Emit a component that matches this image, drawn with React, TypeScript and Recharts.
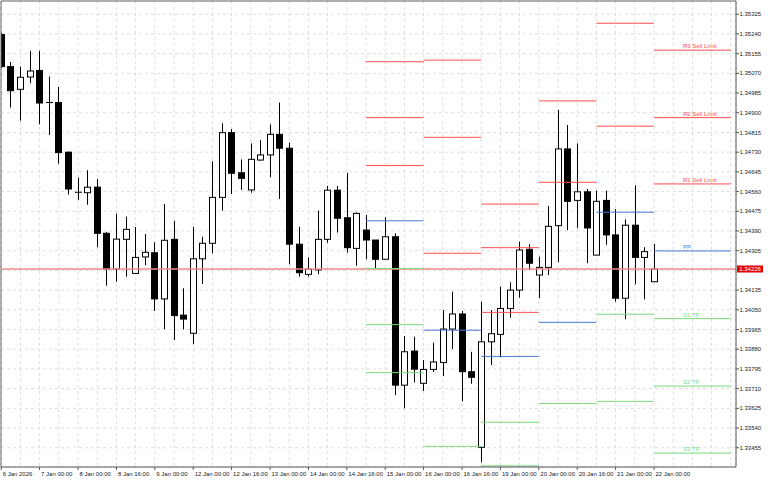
import React from 'react';
import { ComposedChart, Bar, XAxis, YAxis, CartesianGrid, ReferenceLine } from 'recharts';

// GBP H4 candles, 6 Jan 2026 .. 22 Jan 2026 (one per bar index)
const opens = [
  1.35237, 1.35099, 1.35001, 1.35054, 1.35082, 1.34944, 1.34944, 1.34730, 1.34557, 1.34555,
  1.34579, 1.34380, 1.34226, 1.34354, 1.34207, 1.34278, 1.34296, 1.34097, 1.34354, 1.34027,
  1.33949, 1.34270, 1.34337, 1.34535, 1.34814, 1.34641, 1.34567, 1.34696, 1.34718, 1.34807,
  1.34747, 1.34333, 1.34203, 1.34222, 1.34354, 1.34566, 1.34447, 1.34315, 1.34394, 1.34351,
  1.34268, 1.34365, 1.33725, 1.33872, 1.33733, 1.33793, 1.33823, 1.33967, 1.34032, 1.33783,
  1.33457, 1.33912, 1.33944, 1.34056, 1.34135, 1.34311, 1.34200, 1.34233, 1.34413, 1.34744,
  1.34522, 1.34559, 1.34286, 1.34522, 1.34373, 1.34100, 1.34415, 1.34276, 1.34171,
];
const highs = [
  1.35244, 1.35119, 1.35099, 1.35167, 1.35167, 1.35056, 1.35011, 1.34732, 1.34620, 1.34652,
  1.34614, 1.34386, 1.34465, 1.34452, 1.34407, 1.34377, 1.34341, 1.34506, 1.34434, 1.34143,
  1.34408, 1.34365, 1.34691, 1.34855, 1.34830, 1.34699, 1.34768, 1.34783, 1.34850, 1.34944,
  1.34771, 1.34408, 1.34276, 1.34478, 1.34584, 1.34584, 1.34641, 1.34470, 1.34459, 1.34351,
  1.34449, 1.34380, 1.33937, 1.33934, 1.33833, 1.33908, 1.34049, 1.34128, 1.34045, 1.33869,
  1.34085, 1.34049, 1.34150, 1.34169, 1.34344, 1.34333, 1.34279, 1.34498, 1.34912, 1.34847,
  1.34768, 1.34571, 1.34564, 1.34564, 1.34484, 1.34440, 1.34588, 1.34320, 1.34334,
];
const lows = [
  1.35093, 1.34922, 1.34866, 1.35027, 1.34850, 1.34804, 1.34680, 1.34547, 1.34524, 1.34503,
  1.34320, 1.34154, 1.34171, 1.34193, 1.34205, 1.34242, 1.34045, 1.33966, 1.33920, 1.33966,
  1.33902, 1.34161, 1.34294, 1.34478, 1.34550, 1.34567, 1.34555, 1.34693, 1.34622, 1.34528,
  1.34246, 1.34193, 1.34193, 1.34204, 1.34339, 1.34383, 1.34296, 1.34240, 1.34268, 1.34229,
  1.34268, 1.33682, 1.33625, 1.33737, 1.33700, 1.33782, 1.33764, 1.33881, 1.33655, 1.33731,
  1.33392, 1.33812, 1.33845, 1.34016, 1.34102, 1.34222, 1.34100, 1.34200, 1.34255, 1.34394,
  1.34402, 1.34251, 1.34286, 1.34330, 1.34085, 1.34009, 1.34160, 1.34095, 1.34171,
];
const closes = [
  1.35099, 1.34995, 1.35053, 1.35080, 1.34942, 1.34942, 1.34728, 1.34571, 1.34556, 1.34579,
  1.34380, 1.34226, 1.34355, 1.34397, 1.34276, 1.34298, 1.34097, 1.34350, 1.34025, 1.34010,
  1.34270, 1.34337, 1.34535, 1.34814, 1.34639, 1.34617, 1.34699, 1.34718, 1.34807, 1.34747,
  1.34333, 1.34210, 1.34225, 1.34354, 1.34566, 1.34445, 1.34318, 1.34466, 1.34351, 1.34268,
  1.34365, 1.33725, 1.33869, 1.33794, 1.33793, 1.33825, 1.33967, 1.34032, 1.33783, 1.33759,
  1.33912, 1.33947, 1.34056, 1.34135, 1.34308, 1.34251, 1.34233, 1.34410, 1.34744, 1.34518,
  1.34559, 1.34403, 1.34518, 1.34373, 1.34100, 1.34415, 1.34276, 1.34301, 1.34226,
];

const BID = 1.34226;

// time axis: label every 4 bars, grid every 2 bars
const tickIdx = [0, 4, 8, 12, 16, 20, 24, 28, 32, 36, 40, 44, 48, 52, 56, 60, 64, 68];
const tickLabels = [
  '6 Jan 2026', '7 Jan 00:00', '8 Jan 00:00', '8 Jan 16:00', '9 Jan 00:00', '12 Jan 00:00',
  '12 Jan 16:00', '13 Jan 00:00', '14 Jan 00:00', '14 Jan 16:00', '15 Jan 00:00', '16 Jan 00:00',
  '16 Jan 16:00', '19 Jan 00:00', '20 Jan 00:00', '20 Jan 16:00', '21 Jan 00:00', '22 Jan 00:00',
];
const gridIdx = Array.from({ length: 39 }, (_, i) => i * 2);

const yTicks = [
  1.35325, 1.3524, 1.35155, 1.3507, 1.34985, 1.349, 1.34815, 1.3473, 1.34645, 1.3456, 1.34475,
  1.3439, 1.34305, 1.3422, 1.34135, 1.3405, 1.33965, 1.3388, 1.33795, 1.3371, 1.33625, 1.3354,
  1.33455,
];

// daily pivot levels (15 Jan .. 22 Jan), null = off screen
const dayStart = [38, 44, 50, 56, 62, 68];
const dayEnd = [44, 50, 56, 62, 68, 76];
const r3 = [1.3512, 1.35127, 1.34506, null, null, 1.3517];
const r2 = [1.34879, 1.34794, 1.34318, 1.34951, 1.35286, 1.34879];
const r1 = [1.34672, 1.34294, 1.34039, 1.346, 1.34842, 1.34593];
const pp = [1.34434, 1.33962, 1.33849, 1.33996, 1.34471, 1.34304];
const s1 = [1.34228, 1.33461, 1.33565, 1.33646, 1.34031, 1.34012];
const s2 = [1.33986, null, 1.33377, null, 1.33655, 1.33721];
const s3 = [1.33779, null, null, null, null, 1.33432];

const RED = '#ff4d4d';
const BLUE = '#4a78d8';
const GREEN = '#7ada7a';

const levels = [
  { values: r3, color: RED, text: 'R3 Sell Limit' },
  { values: r2, color: RED, text: 'R2 Sell Limit' },
  { values: r1, color: RED, text: 'R1 Sell Limit' },
  { values: pp, color: BLUE, text: 'PP' },
  { values: s1, color: GREEN, text: 'S1 TP' },
  { values: s2, color: GREEN, text: 'S2 TP' },
  { values: s3, color: GREEN, text: 'S3 TP' },
];

const X_DOMAIN: [number, number] = [-0.02, 76.54];
const Y_DOMAIN: [number, number] = [1.33372, 1.35382];
const FONT = '"Liberation Sans", Arial, sans-serif';

const data = opens.map((o, i) => ({
  i,
  open: o,
  high: highs[i],
  low: lows[i],
  close: closes[i],
  range: [lows[i], highs[i]],
}));

const Candle = (props: any) => {
  const { x, y, width, height, payload } = props;
  const { open, high, low, close } = payload;
  const k = high > low ? height / (high - low) : 0;
  const yO = y + (high - open) * k;
  const yC = y + (high - close) * k;
  const cx = Math.round(x + width / 2) + 0.5;
  const top = Math.min(yO, yC);
  const bot = Math.max(yO, yC);
  const bull = close >= open;
  return (
    <g>
      <line x1={cx} x2={cx} y1={y} y2={y + height} stroke="#000" />
      {bot - top < 1 ? (
        <line x1={cx - 3.5} x2={cx + 3.5} y1={top} y2={top} stroke="#000" />
      ) : (
        <rect x={cx - 3} y={top} width={6} height={bot - top} fill={bull ? '#fff' : '#000'} stroke="#000" />
      )}
    </g>
  );
};

const XTick = (props: any) => {
  const { x, y, payload } = props;
  const k = tickIdx.indexOf(payload.value);
  if (k < 0) return <g />;
  return (
    <g>
      <line x1={x} x2={x} y1={y} y2={y + 3} stroke="#555" />
      <text x={x + 1.5} y={y + 8.5} fontSize={6} fontFamily={FONT} fill="#222">
        {tickLabels[k]}
      </text>
    </g>
  );
};

const YTick = (props: any) => {
  const { x, y, payload } = props;
  // the 1.34220 label sits under the bid price tag
  if (Math.abs(payload.value - BID) < 0.0001) return <g />;
  return (
    <g>
      <line x1={x} x2={x + 3} y1={y} y2={y} stroke="#555" />
      <text x={x + 3.5} y={y} dy="0.35em" fontSize={6} fontFamily={FONT} fill="#222">
        {payload.value.toFixed(5)}
      </text>
    </g>
  );
};

const PriceTag = (props: any) => {
  const { viewBox } = props;
  const x = viewBox.x + viewBox.width + 1;
  const y = viewBox.y;
  return (
    <g>
      <rect x={x} y={y - 3.5} width={26} height={7} fill="#e00000" />
      <text x={x + 13} y={y} dy="0.35em" textAnchor="middle" fontSize={6} fontFamily={FONT} fill="#fff">
        {BID.toFixed(5)}
      </text>
    </g>
  );
};

const levelLabel = (text: string, color: string) => (props: any) => {
  const { viewBox } = props;
  return (
    <text x={viewBox.x + 29} y={viewBox.y - 2} fontSize={6} fontFamily={FONT} fill={color}>
      {text}
    </text>
  );
};

const App: React.FC = () => {
  const last = dayStart.length - 1;
  return (
    <div style={{ position: 'absolute', left: 0, top: 0, width: 768, height: 480, background: '#fff' }}>
      <ComposedChart width={768} height={480} data={data} margin={{ top: 1, right: 0, bottom: 0, left: 1 }}>
        <CartesianGrid stroke="#dedede" strokeDasharray="3 3" />
        <XAxis
          dataKey="i"
          type="number"
          domain={X_DOMAIN}
          allowDataOverflow
          ticks={gridIdx}
          interval={0}
          height={13}
          tickSize={0}
          tickMargin={0}
          tickLine={false}
          axisLine={{ stroke: '#555' }}
          tick={<XTick />}
        />
        <YAxis
          orientation="right"
          type="number"
          domain={Y_DOMAIN}
          allowDataOverflow
          ticks={yTicks}
          interval={0}
          width={32}
          tickSize={0}
          tickMargin={0}
          tickLine={false}
          axisLine={{ stroke: '#555' }}
          tick={<YTick />}
        />
        <ReferenceLine x={X_DOMAIN[0]} stroke="#666" ifOverflow="visible" />
        <ReferenceLine y={Y_DOMAIN[1]} stroke="#666" ifOverflow="visible" />
        <ReferenceLine y={BID} stroke="#f08a8a" strokeWidth={1.5} label={PriceTag} />
        <Bar dataKey="range" barSize={7} shape={<Candle />} isAnimationActive={false} />
        {levels.map((lv, li) =>
          lv.values.map((v, d) =>
            v == null ? null : (
              <ReferenceLine
                key={`${li}-${d}`}
                segment={[
                  { x: dayStart[d], y: v },
                  { x: dayEnd[d], y: v },
                ]}
                stroke={lv.color}
                ifOverflow="visible"
                label={d === last ? levelLabel(lv.text, lv.color) : undefined}
              />
            )
          )
        )}
      </ComposedChart>
    </div>
  );
};

export default App;
